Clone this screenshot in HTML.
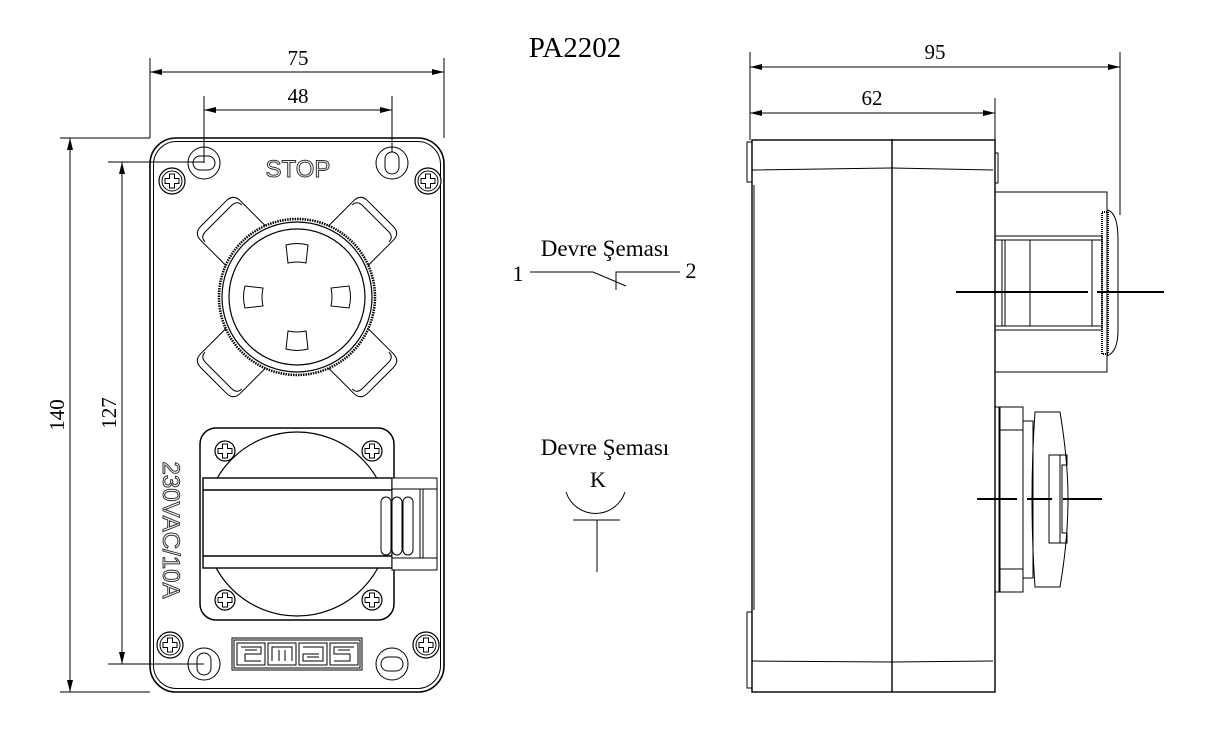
<!DOCTYPE html>
<html><head><meta charset="utf-8"><style>html,body{margin:0;padding:0;background:#fff}svg{display:block}</style></head>
<body>
<svg width="1211" height="738" viewBox="0 0 1211 738" xmlns="http://www.w3.org/2000/svg" font-family="Liberation Serif, serif">
<defs>
<marker id="a" viewBox="0 0 12 6" refX="12" refY="3" markerWidth="12" markerHeight="6" orient="auto-start-reverse" markerUnits="userSpaceOnUse"><path d="M0,0 L12,3 L0,6 z" fill="#000"/></marker>
<g id="scr"><circle r="13" fill="#fff" stroke="#000" stroke-width="1.2"/><circle r="10" fill="none" stroke="#000"/><path d="M-2.5,-7 h5 v4.5 h4.5 v5 h-4.5 v4.5 h-5 v-4.5 h-4.5 v-5 h4.5 z" fill="none" stroke="#000"/></g>
<g id="scr2"><circle r="10" fill="#fff" stroke="#000" stroke-width="1.2"/><path d="M-2.5,-7 h5 v4.5 h4.5 v5 h-4.5 v4.5 h-5 v-4.5 h-4.5 v-5 h4.5 z" fill="none" stroke="#000"/></g>
<g id="arm"><path d="M-36,-50 Q-28,-62 -28,-74 L-28,-108 Q-28,-118 -18,-118 L18,-118 Q28,-118 28,-108 L28,-74 Q28,-62 36,-50 z" fill="#fff" stroke="#000"/><path d="M-26,-104 Q-26,-111 -18,-111 L18,-111 Q26,-111 26,-104" stroke="#000" fill="none"/></g>
</defs>
<g stroke="#000" stroke-width="1" fill="none">
<line x1="150" y1="58" x2="150" y2="138"/><line x1="444" y1="58" x2="444" y2="138"/>
<line x1="150" y1="72" x2="444" y2="72" marker-start="url(#a)" marker-end="url(#a)"/>
<line x1="204" y1="96" x2="204" y2="163"/><line x1="392" y1="96" x2="392" y2="152"/>
<line x1="204" y1="110" x2="392" y2="110" marker-start="url(#a)" marker-end="url(#a)"/>
<line x1="60" y1="138" x2="150" y2="138"/><line x1="60" y1="692" x2="150" y2="692"/>
<line x1="70" y1="138" x2="70" y2="692" marker-start="url(#a)" marker-end="url(#a)"/>
<line x1="108" y1="162" x2="204" y2="162"/><line x1="108" y1="664" x2="204" y2="664"/>
<line x1="122" y1="162" x2="122" y2="664" marker-start="url(#a)" marker-end="url(#a)"/>
<rect x="150" y="138" width="294" height="554" rx="26" stroke-width="1.6"/>
<rect x="153.5" y="141.5" width="287" height="547" rx="23"/>
<circle cx="204" cy="163" r="16"/><rect x="193" y="156" width="22" height="14" rx="7"/>
<circle cx="392" cy="163" r="16"/><rect x="385" y="152" width="14" height="22" rx="7"/>
<circle cx="204" cy="664" r="16"/><rect x="197" y="653" width="14" height="22" rx="7"/>
<circle cx="392" cy="664" r="16"/><rect x="381" y="657" width="22" height="14" rx="7"/>
</g>
<use href="#scr" x="172" y="181"/><use href="#scr" x="428" y="181"/>
<use href="#scr" x="170" y="645"/><use href="#scr" x="426" y="645"/>
<text x="298" y="177" font-family="Liberation Sans, sans-serif" font-size="24" text-anchor="middle" fill="#fff" stroke="#333" stroke-width="1">STOP</text>
<g transform="translate(297,297)" stroke-width="1">
<use href="#arm" transform="rotate(45)"/><use href="#arm" transform="rotate(135)"/><use href="#arm" transform="rotate(225)"/><use href="#arm" transform="rotate(315)"/>
<circle r="78" fill="#fff" stroke="#000" stroke-width="2.5" stroke-dasharray="1.5 1"/>
<circle r="75" fill="#fff" stroke="#000" stroke-width="1.2"/>
<circle r="68" fill="none" stroke="#000" stroke-width="1.2"/>
<g fill="#fff" stroke="#000">
<path d="M-11,-52 Q0,-55 11,-52 L9,-34 Q0,-36 -9,-34 z"/>
<path d="M-11,52 Q0,55 11,52 L9,34 Q0,36 -9,34 z"/>
<path d="M-52,-11 Q-55,0 -52,11 L-34,9 Q-36,0 -34,-9 z"/>
<path d="M52,-11 Q55,0 52,11 L34,9 Q36,0 34,-9 z"/>
</g>
</g>
<g stroke="#000" fill="none">
<rect x="200" y="428" width="194" height="192" rx="16" stroke-width="1.5"/>
<circle cx="297" cy="524" r="92" stroke-width="1.2"/>
<rect x="203" y="478" width="189" height="90" fill="#fff" stroke-width="1.4"/>
<line x1="203" y1="490" x2="392" y2="490" stroke-width="1.4"/><line x1="203" y1="556" x2="392" y2="556" stroke-width="1.4"/>
<rect x="392" y="478" width="45" height="92" fill="#fff"/>
<line x1="392" y1="489" x2="437" y2="489"/><line x1="392" y1="558" x2="437" y2="558"/>
<line x1="420" y1="489" x2="420" y2="558"/><line x1="423" y1="489" x2="423" y2="558"/>
<rect x="381" y="497" width="10" height="58" rx="5" fill="#fff"/>
<rect x="392" y="497" width="10" height="58" rx="5" fill="#fff"/>
<rect x="403" y="497" width="10" height="58" rx="5" fill="#fff"/>
</g>
<use href="#scr2" x="225" y="451"/><use href="#scr2" x="372" y="451"/><use href="#scr2" x="225" y="600"/><use href="#scr2" x="372" y="600"/>
<text transform="translate(163,530) rotate(90)" font-family="Liberation Sans, sans-serif" font-size="24" text-anchor="middle" fill="#fff" stroke="#333" stroke-width="1">230VAC/10A</text>
<g stroke="#000" fill="none">
<rect x="232" y="638" width="130" height="32"/><rect x="234" y="640" width="126" height="28"/>
<rect x="237" y="643" width="28" height="22"/><rect x="268" y="643" width="28" height="22"/><rect x="299" y="643" width="28" height="22"/><rect x="330" y="643" width="28" height="22"/>
<path d="M241,647 h20 v7 h-16 v7 h16 M245,650 h12"/>
<path d="M272,661 v-14 h20 v14 M279,650 v11 M285,650 v11"/>
<path d="M303,647 h20 v14 h-20 v-7 h16 M307,657 h12"/>
<path d="M354,647 h-20 v7 h16 v7 h-16 M338,650 h12"/>
</g>
<text x="298" y="65" font-size="21" text-anchor="middle">75</text>
<text x="298" y="103" font-size="21" text-anchor="middle">48</text>
<text transform="translate(64,415) rotate(-90)" font-size="21" text-anchor="middle">140</text>
<text transform="translate(116,413) rotate(-90)" font-size="21" text-anchor="middle">127</text>
<text x="575" y="57" font-size="29" text-anchor="middle">PA2202</text>
<text x="935" y="59" font-size="21" text-anchor="middle">95</text>
<text x="872" y="105" font-size="21" text-anchor="middle">62</text>
<text x="605" y="256" font-size="23" text-anchor="middle">Devre Şeması</text>
<text x="518" y="281" font-size="22" text-anchor="middle">1</text>
<text x="691" y="278" font-size="22" text-anchor="middle">2</text>
<text x="605" y="455" font-size="23" text-anchor="middle">Devre Şeması</text>
<text x="598" y="487" font-size="22" text-anchor="middle">K</text>
<g stroke="#000" fill="none">
<path d="M530,272 H593 L626,286 M616,290 V272 H680"/>
<path d="M566,492 A31,31 0 0 0 625,492"/>
<path d="M573,520 H620 M597,520 V572"/>
</g>
<g stroke="#000" fill="none">
<line x1="750" y1="52" x2="750" y2="140"/><line x1="1120" y1="52" x2="1120" y2="215"/>
<line x1="750" y1="67" x2="1120" y2="67" marker-start="url(#a)" marker-end="url(#a)"/>
<line x1="995" y1="98" x2="995" y2="140"/>
<line x1="750" y1="113" x2="995" y2="113" marker-start="url(#a)" marker-end="url(#a)"/>
<rect x="752" y="140" width="243" height="552" stroke-width="1.4"/>
<line x1="892" y1="139" x2="892" y2="692" stroke-width="1.4"/>
<path d="M752,170 L892,168 L993,170 M752,661 L892,662 L993,661"/>
<rect x="747" y="142" width="5" height="40"/><rect x="747" y="612" width="5" height="76"/>
<rect x="995" y="153" width="3" height="30"/>
<line x1="754" y1="185" x2="754" y2="610"/>
<rect x="995" y="192" width="112" height="180"/>
<rect x="995" y="236" width="107" height="94"/>
<line x1="995" y1="240" x2="1102" y2="240"/><line x1="995" y1="326" x2="1102" y2="326"/>
<line x1="1002" y1="240" x2="1002" y2="326"/><line x1="1005" y1="240" x2="1005" y2="326"/>
<line x1="1030" y1="240" x2="1030" y2="326"/><line x1="1092" y1="240" x2="1092" y2="326"/>
<rect x="1102" y="212" width="6" height="142" stroke-width="2" stroke-dasharray="1 1"/>
<path d="M1107,210 Q1118,212 1118,240 L1118,330 Q1118,352 1107,356"/>
<line x1="956" y1="292" x2="1088" y2="292" stroke-width="2"/><line x1="1097" y1="292" x2="1164" y2="292" stroke-width="2"/>
<rect x="995" y="407" width="5" height="185"/>
<rect x="999" y="407" width="24" height="185"/>
<line x1="999" y1="430" x2="1023" y2="430"/><line x1="999" y1="569" x2="1023" y2="569"/>
<rect x="1023" y="421" width="10" height="157"/>
<path d="M1035,412 H1060 Q1068,460 1068,499 Q1068,540 1060,587 H1035 Q1029,499 1035,412 z"/>
<rect x="1049" y="455" width="11" height="88"/><path d="M1060,455 h7 v10 h-5 v68 h5 v10 h-7"/>
<line x1="977" y1="499" x2="1017" y2="499" stroke-width="2"/><line x1="1027" y1="499" x2="1052" y2="499" stroke-width="2"/><line x1="1063" y1="499" x2="1102" y2="499" stroke-width="2"/>
</g>
</svg>
</body></html>
